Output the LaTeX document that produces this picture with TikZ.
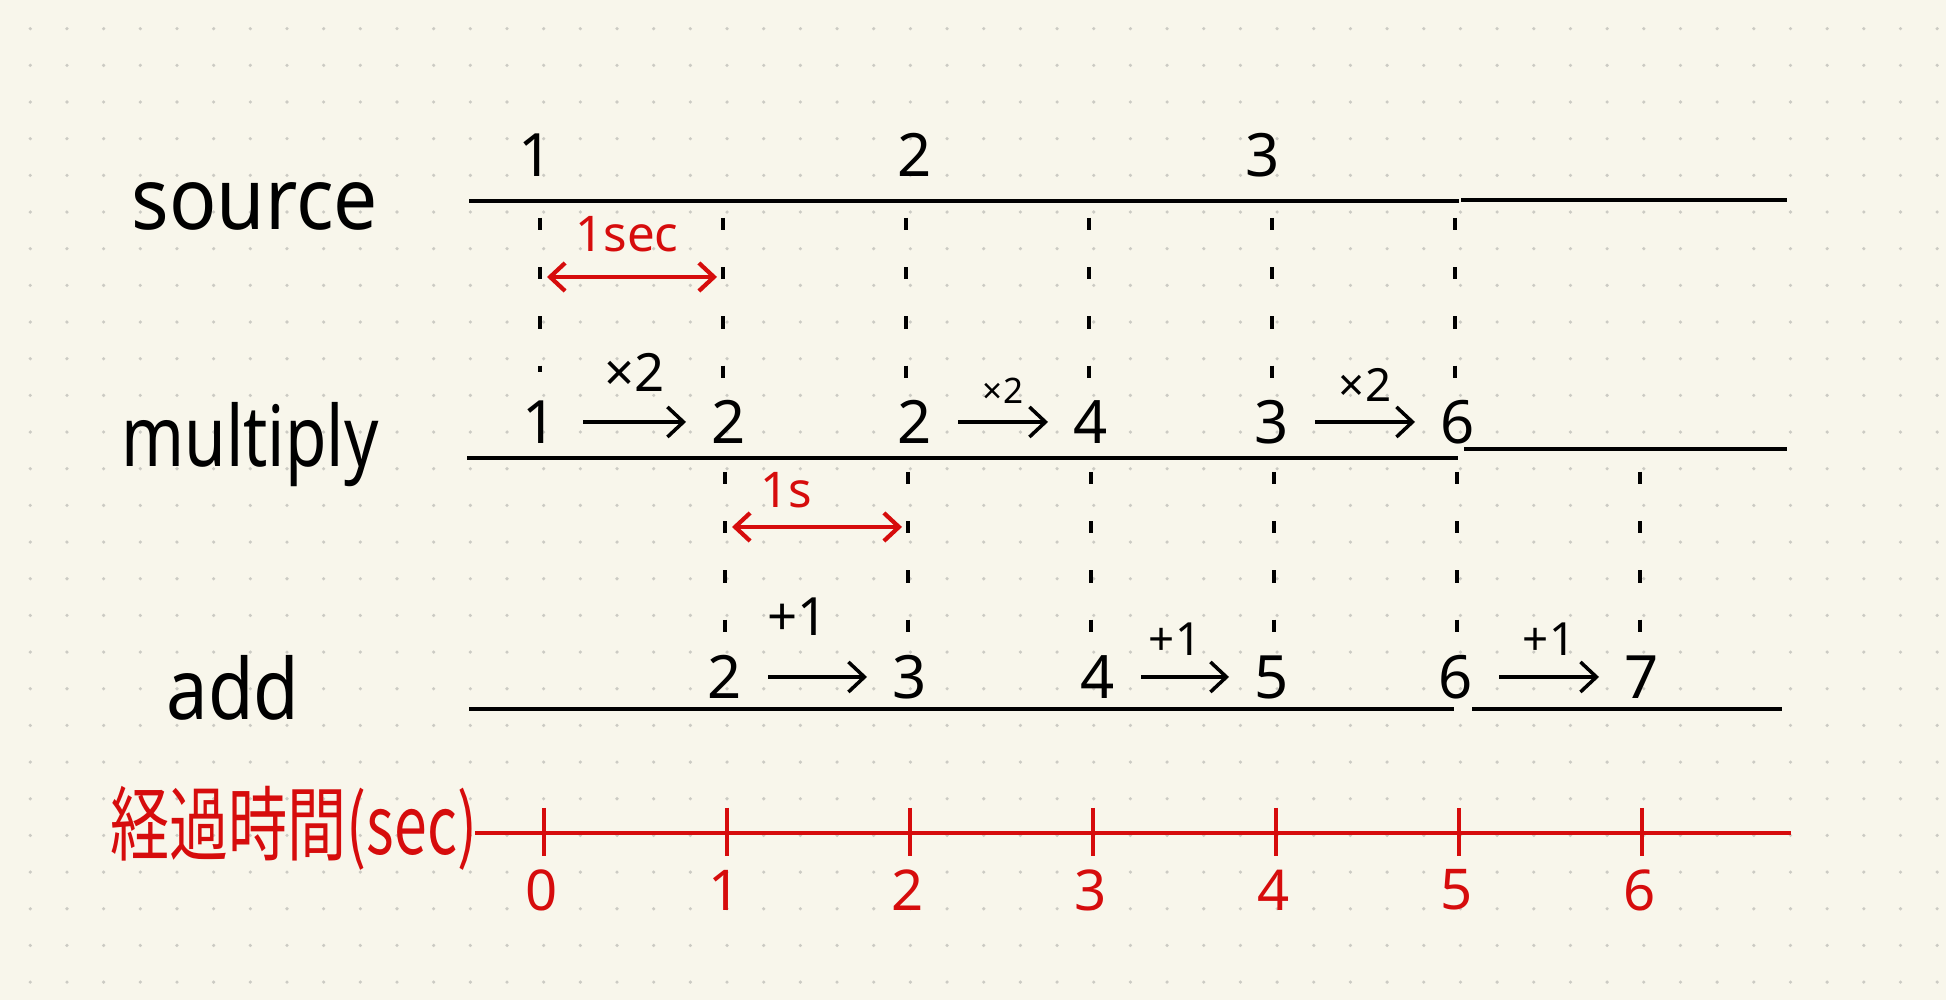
\documentclass[tikz,border=0pt]{standalone}
\usepackage{fontspec}
\setmainfont{Noto Sans}
\newfontfamily\jpfont{Noto Sans CJK JP}
\usepackage{tikz}
\usetikzlibrary{arrows.meta}
\definecolor{paper}{RGB}{248,246,235}
\definecolor{griddot}{RGB}{204,203,196}
\definecolor{redpen}{RGB}{214,12,12}
\newcommand{\squeeze}[1]{\scalebox{0.88}[1]{#1}}

\begin{document}
\begin{tikzpicture}[
    rowlabel/.style={font=\fontsize{24}{28}\selectfont, anchor=base, inner sep=0pt},
    val/.style={font=\fontsize{17}{20}\selectfont, inner sep=0pt},
    oplabel/.style={font=\fontsize{13}{15}\selectfont, inner sep=0pt},
    op/.style={-{Straight Barb[length=1.6mm,width=3mm]}, line width=1pt,
               shorten <=4.3mm, shorten >=4.3mm},
    rowline/.style={line width=1.1pt},
    guide/.style={line width=0.9pt, dash pattern=on 3.5pt off 10.5pt},
    span/.style={{Straight Barb[length=1.5mm,width=2.8mm]}-{Straight Barb[length=1.5mm,width=2.8mm]},
                 redpen, line width=1.2pt},
    spanlabel/.style={font=\fontsize{14}{16}\selectfont, text=redpen, inner sep=0pt},
    tick/.style={font=\fontsize{16}{18}\selectfont, text=redpen, inner sep=0pt},
]
\useasboundingbox (0,0) rectangle (19.46,10);

% paper with dot grid
\fill[paper] (0,0) rectangle (19.46,10);
\foreach \gx in {0,...,52}
  \foreach \gy in {0,...,26}
    \fill[griddot] (0.303+\gx*0.3667, 9.713-\gy*0.3667) circle (0.018);

% row names
\node[rowlabel] (srcname) at (2.55,7.70) {\scalebox{0.93}[1.02]{source}};
\node[rowlabel] (mulname) at (2.50,5.33) {\scalebox{0.8}[1]{multiply}};
\node[rowlabel] (addname) at (2.33,2.80) {\squeeze{add}};

% timelines
\draw[rowline] (4.69,7.99) -- (14.59,7.99);
\draw[rowline] (14.61,8.00) -- (17.87,8.00);
\draw[rowline] (4.67,5.42) -- (14.58,5.42);
\draw[rowline] (14.64,5.51) -- (17.87,5.51);
\draw[rowline] (4.69,2.91) -- (14.54,2.91);
\draw[rowline] (14.72,2.91) -- (17.82,2.91);

% guides between the rows
\foreach \i/\lo in {0/6.28,1/6.03,2/6.21,3/6.05,4/6.05,5/6.15} {
  \coordinate (up\i) at (5.40+1.83*\i,7.82);
  \coordinate (uq\i) at (5.40+1.83*\i,\lo);
  \draw[guide] (up\i) -- (uq\i);
}
\foreach \i/\lo in {1/3.48,2/3.48,3/3.49,4/3.55,5/3.48,6/3.48} {
  \coordinate (lp\i) at (5.42+1.83*\i,5.28);
  \coordinate (lq\i) at (5.42+1.83*\i,\lo);
  \draw[guide] (lp\i) -- (lq\i);
}

% source values
\node[val] (s1) at (5.36,8.45) {1};
\node[val] (s2) at (9.15,8.45) {2};
\node[val] (s3) at (12.63,8.45) {3};

% multiply values
\node[val] (m1) at (5.40,5.78) {1};
\node[val] (m2) at (7.29,5.78) {2};
\node[val] (m3) at (9.15,5.78) {2};
\node[val] (m4) at (10.91,5.78) {4};
\node[val] (m5) at (12.72,5.78) {3};
\node[val] (m6) at (14.58,5.78) {6};
\draw[op] (m1.center) -- node[oplabel, above=2.9mm, font=\fontsize{15}{17}\selectfont] {×2} (m2.center);
\draw[op] (m3.center) -- node[oplabel, above=1.7mm, font=\fontsize{10}{12}\selectfont] {×2} (m4.center);
\draw[op] (m5.center) -- node[oplabel, above=1.9mm] {×2} (m6.center);

% add values
\node[val] (a1) at (7.25,3.23) {2};
\node[val] (a2) at (9.10,3.23) {3};
\node[val] (a3) at (10.98,3.23) {4};
\node[val] (a4) at (12.72,3.23) {5};
\node[val] (a5) at (14.56,3.23) {6};
\node[val] (a6) at (16.42,3.23) {7};
\draw[op] (a1.center) -- node[oplabel, above=4mm, xshift=-2mm, font=\fontsize{15}{17}\selectfont] {+1} (a2.center);
\draw[op] (a3.center) -- node[oplabel, above=2mm, xshift=-1mm] {+1} (a4.center);
\draw[op] (a5.center) -- node[oplabel, above=2mm] {+1} (a6.center);

% one second spans
\coordinate (sp1a) at (5.47,7.23);
\coordinate (sp1b) at (7.17,7.23);
\draw[span] (sp1a) -- node[spanlabel, above=2.3mm, xshift=-0.5mm] {1sec} (sp1b);
\coordinate (sp2a) at (7.32,4.73);
\coordinate (sp2b) at (9.02,4.73);
\draw[span] (sp2a) -- node[spanlabel, above=1.7mm, xshift=-3.1mm] {1s} (sp2b);

% elapsed time axis
\node[font=\fontsize{21}{24}\selectfont, text=redpen, inner sep=0pt] (axisname) at (2.94,1.72)
  {\scalebox{0.8}[1.1]{\jpfont 経過時間(sec)}};
\coordinate (axend) at (17.91,1.67);
\draw[redpen, line width=1.2pt] (4.75,1.67) -- (axend);
\foreach \i in {0,...,6} {
  \coordinate (t\i) at (5.44+1.83*\i,1.67);
  \draw[redpen, line width=1.1pt] ([yshift=2.5mm]t\i) -- ([yshift=-2.3mm]t\i);
  \node[tick] (n\i) at (5.42+1.83*\i,1.10) {\i};
}
\end{tikzpicture}
\end{document}
